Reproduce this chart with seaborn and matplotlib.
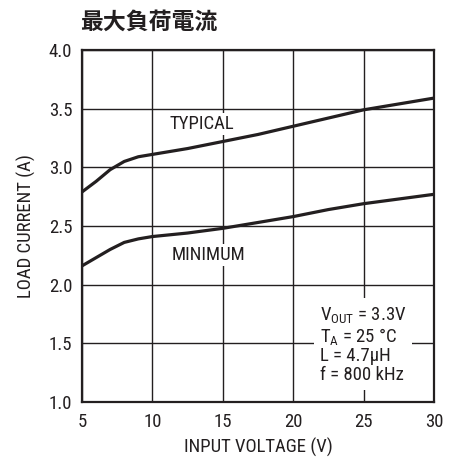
import numpy as np
import pandas as pd
import matplotlib
matplotlib.use('Agg')
import matplotlib.pyplot as plt
import seaborn as sns

# data
vin = [5, 6, 7, 8, 9, 10, 12.5, 15, 17.5, 20, 22.5, 25, 27.5, 30]
i_typ = [2.79, 2.88, 2.98, 3.05, 3.09, 3.11, 3.16, 3.22, 3.28, 3.35, 3.42, 3.49, 3.54, 3.59]
i_min = [2.16, 2.23, 2.30, 2.36, 2.39, 2.41, 2.44, 2.48, 2.53, 2.58, 2.64, 2.69, 2.73, 2.77]
x_ticks = [5, 10, 15, 20, 25, 30]
y_ticks = [1.0, 1.5, 2.0, 2.5, 3.0, 3.5, 4.0]

df = pd.DataFrame({'vin': vin * 2, 'iload': i_typ + i_min,
                   'curve': ['TYPICAL'] * len(vin) + ['MINIMUM'] * len(vin)})

sns.set_style('white')
FONT = ['Roboto Condensed', 'DejaVu Sans']
plt.rcParams['font.family'] = FONT
plt.rcParams['mathtext.default'] = 'regular'
INK = '#231f20'
FS = 13.5

fig = plt.figure(figsize=(4.54, 4.59), dpi=100)
ax = fig.add_axes([0.1806, 0.1242, 0.7753, 0.7669])
sns.lineplot(data=df, x='vin', y='iload', units='curve', estimator=None,
             color=INK, lw=2.3, ax=ax, legend=False, zorder=3)

ax.set_xlim(5, 30); ax.set_ylim(1.0, 4.0)
ax.set_xticks(x_ticks); ax.set_yticks(y_ticks)
ax.set_yticklabels([f'{v:.1f}' for v in y_ticks])
ax.tick_params(length=0, labelsize=FS, colors=INK)
ax.tick_params(axis='y', pad=7); ax.tick_params(axis='x', pad=8)
ax.grid(True, color=INK, lw=1.0)
for sp in ax.spines.values(): sp.set_color(INK); sp.set_linewidth(1.6)
ax.set_xlabel('INPUT VOLTAGE (V)', fontsize=FS, color=INK, labelpad=5)
ax.set_ylabel('LOAD CURRENT (A)', fontsize=FS, color=INK, labelpad=9)

box = dict(facecolor='white', edgecolor='none', pad=1.5)
ax.text(13.5, 3.37, 'TYPICAL', ha='center', va='center', fontsize=FS, color=INK, bbox=box, zorder=4)
ax.text(14.0, 2.25, 'MINIMUM', ha='center', va='center', fontsize=FS, color=INK, bbox=box, zorder=4)
ax.text(21.9, 1.49, 'V$_{OUT}$ = 3.3V\nT$_A$ = 25 °C\nL = 4.7μH\nf = 800 kHz',
        ha='left', va='center', fontsize=FS, color=INK, linespacing=1.05,
        bbox=dict(facecolor='white', edgecolor='none', pad=4), zorder=4)

fig.text(0.176, 0.952, '最大負荷電流', fontsize=16.5, fontweight='bold', color=INK,
         family=['Noto Sans CJK JP', 'DejaVu Sans'], ha='left', va='center')

fig.savefig('out.png', dpi=100, facecolor='white')
